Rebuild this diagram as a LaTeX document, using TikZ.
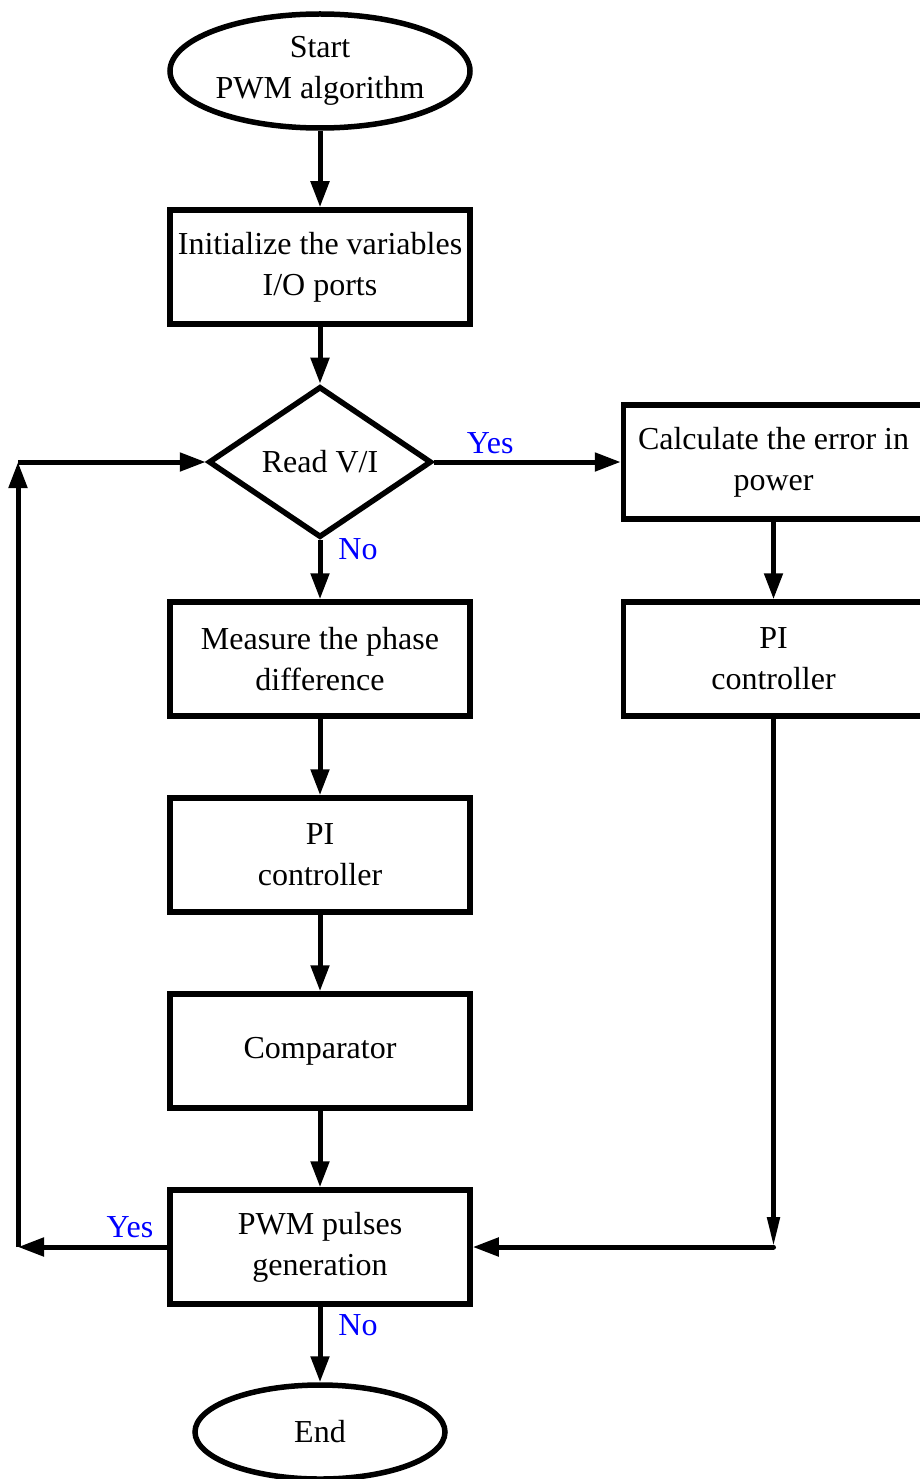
\documentclass[tikz,border=0pt]{standalone}
\usepackage{fontspec}
\setmainfont{Liberation Serif}
\usetikzlibrary{shapes.geometric,arrows.meta}
\begin{document}
\begin{tikzpicture}[x=1pt,y=-1pt,
  every node/.style={font=\fontsize{32}{41}\selectfont, align=center},
  proc/.style={draw, line width=5.5pt, minimum width=300pt, minimum height=114pt, inner sep=0pt},
  term/.style={draw, ellipse, line width=5.5pt, inner sep=0pt},
  deci/.style={draw, diamond, line width=5.5pt, minimum width=223pt, minimum height=151pt, inner sep=0pt, aspect=1.46},
  arr/.style={line width=5pt, -{Triangle[length=26pt,width=18pt]}},
  thinarr/.style={line width=5pt, -{Triangle[length=30pt,width=12pt]}},
  lbl/.style={text=blue, anchor=center, inner sep=0pt}
]
\useasboundingbox (0,0) rectangle (919,1479);
\node[term, minimum width=300pt, minimum height=114pt] (start) at (320,71) {Start\\PWM algorithm};
\node[proc] (init) at (320,267) {Initialize the variables\\I/O ports};
\node[deci] (read) at (320,462) {Read V/I};
\node[proc] (calc) at (773.5,462) {Calculate the error in\\power};
\node[proc] (pir) at (773.5,659) {PI\\controller};
\node[proc] (meas) at (320,659) {Measure the phase\\difference};
\node[proc] (pil) at (320,855) {PI\\controller};
\node[proc] (comp) at (320,1051) {Comparator};
\node[proc] (pwm) at (320,1247) {PWM pulses\\generation};
\node[term, minimum width=250pt, minimum height=94pt] (end) at (320,1432) {End};

\coordinate (rc) at (773.5,1247);
\coordinate (lb) at (18,1247);
\coordinate (lt) at (18,462);

\draw[arr] (start) -- (init);
\draw[arr] (init) -- (read);
\draw[arr] (read.south) -- (meas.north) node[lbl, pos=0.15, xshift=38pt] {No};
\draw[arr] (read.east) -- (calc.west) node[lbl, pos=0.30, yshift=19pt] {Yes};
\draw[arr] (meas) -- (pil);
\draw[arr] (pil) -- (comp);
\draw[arr] (comp) -- (pwm);
\draw[arr] (calc) -- (pir);
\draw[thinarr] (pir.south) -- (rc);
\draw[arr, line cap=round] (rc) -- (pwm.east);
\draw[arr] (pwm.west) -- (lb) node[lbl, pos=0.25, yshift=20pt] {Yes};
\draw[arr] (lb) -- (lt);
\draw[arr] (lt) -- (read.west);
\draw[arr] (pwm.south) -- (end.north) node[lbl, pos=0.25, xshift=38pt] {No};
\end{tikzpicture}
\end{document}
